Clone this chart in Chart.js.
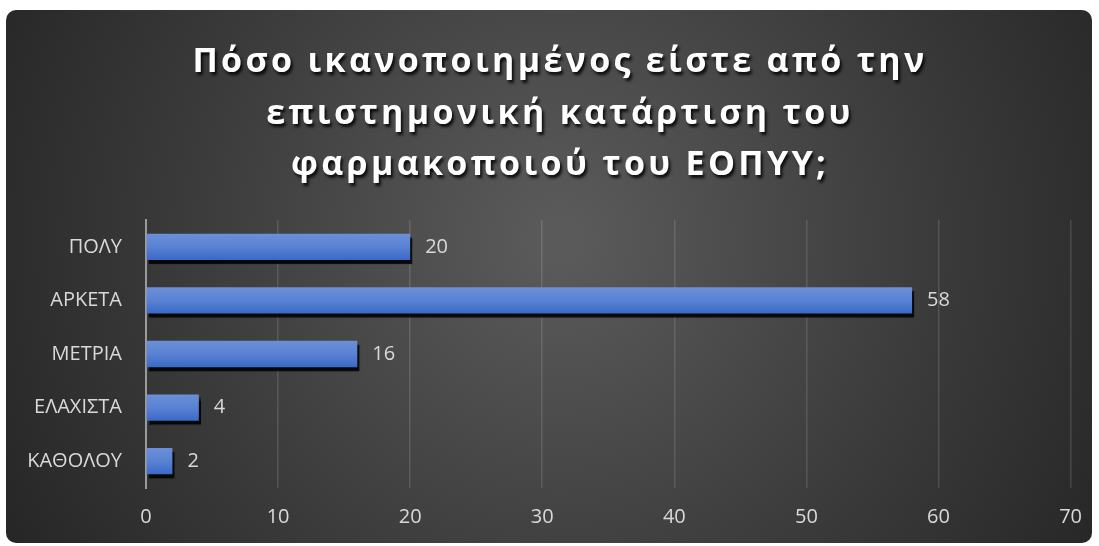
<!DOCTYPE html>
<html>
<head>
<meta charset="utf-8">
<script src="https://cdn.jsdelivr.net/npm/chart.js@4/dist/chart.umd.min.js"></script>
<style>
  html, body { margin: 0; padding: 0; background: #fff; }
  #wrap { width: 1099px; height: 546px; }
</style>
</head>
<body>
<div id="wrap"><canvas id="myChart" width="1099" height="546"></canvas></div>
<script>
const titleLines = ['Πόσο ικανοποιημένος είστε από την', 'επιστημονική κατάρτιση του', 'φαρμακοποιού του ΕΟΠΥΥ;'];
const categories = ['ΠΟΛΥ', 'ΑΡΚΕΤΑ', 'ΜΕΤΡΙΑ', 'ΕΛΑΧΙΣΤΑ', 'ΚΑΘΟΛΟΥ'];
const values = [20, 58, 16, 4, 2];
const axisMax = 70;
const axisStep = 10;

const textColor = '#d9d9d9';
const labelFont = { family: "'Open Sans', sans-serif", size: 20 };

// dark rounded panel with a radial glow
const backgroundPlugin = {
    id: 'panel',
    beforeDraw(chart) {
        const c = chart.ctx;
        c.save();
        const g = c.createRadialGradient(560, 240, 20, 560, 240, 680);
        g.addColorStop(0, '#5a5a5a');
        g.addColorStop(0.55, '#3a3a3a');
        g.addColorStop(1, '#222222');
        c.fillStyle = g;
        c.beginPath();
        c.roundRect(6, 10, 1086, 533, 10);
        c.fill();
        c.restore();
    }
};

const titlePlugin = {
    id: 'spacedTitle',
    afterDraw(chart) {
        const c = chart.ctx;
        c.save();
        c.font = "bold 34px 'Open Sans', sans-serif";
        c.letterSpacing = '3.3px';
        c.textAlign = 'center';
        c.textBaseline = 'alphabetic';
        c.fillStyle = '#ffffff';
        c.shadowColor = 'rgba(0,0,0,0.85)';
        c.shadowOffsetX = 2;
        c.shadowOffsetY = 3;
        c.shadowBlur = 3;
        const base = [72, 124, 175];
        titleLines.forEach((t, i) => c.fillText(t, 560, base[i]));
        c.restore();
    }
};

const shadowPlugin = {
    id: 'barShadow',
    beforeDatasetsDraw(chart) {
        const c = chart.ctx;
        c.save();
        c.shadowColor = 'rgba(0,0,0,0.9)';
        c.shadowOffsetX = 2;
        c.shadowOffsetY = 4;
        c.shadowBlur = 1;
    },
    afterDatasetsDraw(chart) {
        chart.ctx.restore();
    }
};

const valueLabels = {
    id: 'valueLabels',
    afterDatasetsDraw(chart) {
        const c = chart.ctx;
        const meta = chart.getDatasetMeta(0);
        c.save();
        c.font = "20px 'Open Sans', sans-serif";
        c.fillStyle = textColor;
        c.textAlign = 'left';
        c.textBaseline = 'middle';
        meta.data.forEach((bar, i) => {
            c.fillText(values[i], bar.x + 15, bar.y);
        });
        c.restore();
    }
};

function barGradient(context) {
    const chart = context.chart;
    const ys = chart.scales.y;
    if (!ys || context.dataIndex === undefined) return '#4f7fd4';
    const y = ys.getPixelForValue(context.dataIndex);
    if (!isFinite(y)) return '#4f7fd4';
    const g = chart.ctx.createLinearGradient(0, y - 13, 0, y + 13);
    g.addColorStop(0, '#6b8fd8');
    g.addColorStop(0.5, '#5a82d3');
    g.addColorStop(1, '#3a69c8');
    return g;
}

const ctx = document.getElementById('myChart').getContext('2d');
const chart = new Chart(ctx, {
    type: 'bar',
    data: {
        labels: categories,
        datasets: [{
            data: values,
            backgroundColor: barGradient,
            borderWidth: 0,
            barPercentage: 0.49,
            categoryPercentage: 1
        }]
    },
    options: {
        indexAxis: 'y',
        responsive: false,
        animation: false,
        layout: { padding: { top: 220, right: 28, bottom: 0, left: 0 } },
        plugins: {
            legend: { display: false },
            tooltip: { enabled: false }
        },
        scales: {
            x: {
                min: 0,
                max: axisMax,
                ticks: { stepSize: axisStep, color: textColor, font: labelFont, padding: 17 },
                grid: { color: 'rgba(255,255,255,0.13)', lineWidth: 1.5, drawTicks: false },
                border: { display: false },
                afterFit(s) { s.height = 58; }
            },
            y: {
                ticks: { color: textColor, font: labelFont, padding: 24 },
                grid: { display: false, drawTicks: false },
                border: { display: true, color: '#9a9a9a', width: 2 },
                afterFit(s) { s.width = 146; }
            }
        }
    },
    plugins: [backgroundPlugin, shadowPlugin, valueLabels, titlePlugin]
});
</script>
</body>
</html>
